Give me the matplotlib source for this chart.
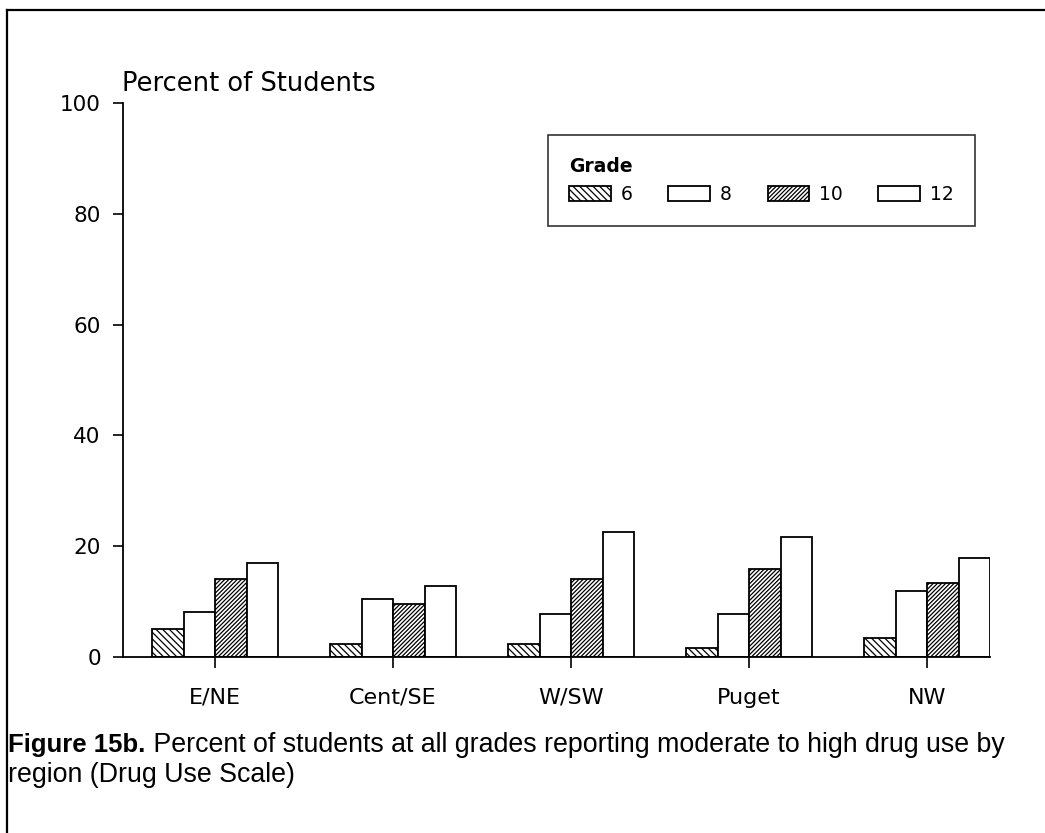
import matplotlib
matplotlib.use("Agg")
import matplotlib.pyplot as plt
from matplotlib.lines import Line2D
import numpy as np

regions = ["E/NE", "Cent/SE", "W/SW", "Puget", "NW"]
grades = ["6", "8", "10", "12"]
grade6 = [5.0, 2.3, 2.4, 1.7, 3.5]
grade8 = [8.1, 10.5, 7.7, 7.7, 11.9]
grade10 = [14.0, 9.5, 14.0, 15.9, 13.3]
grade12 = [16.9, 12.8, 22.5, 21.7, 17.8]
yticks = [0, 20, 40, 60, 80, 100]

plt.rcParams['hatch.linewidth'] = 0.9
plt.rcParams['font.family'] = ['DejaVu Sans']

fig = plt.figure(figsize=(10.45, 8.33), dpi=100)
ax = fig.add_axes([0.1177, 0.2113, 0.8297, 0.6651])

x = np.arange(len(regions))
w = 0.177
series = [grade6, grade8, grade10, grade12]
hatches = ['\\\\\\\\\\', None, '////////', None]
for i, (vals, h) in enumerate(zip(series, hatches)):
    ax.bar(x + (i - 1.5) * w, vals, w, color='white', edgecolor='black',
           linewidth=1.3, hatch=h, label=grades[i])

ax.set_xlim(-0.517, 4.354)
ax.set_ylim(0, 100)
ax.set_yticks(yticks)
ax.set_xticks(x)
ax.set_xticklabels(regions, fontsize=16)
ax.tick_params(axis='y', labelsize=15.5, length=7, width=1.2, pad=9, direction='out')
ax.tick_params(axis='x', length=8, width=1.2, pad=14, direction='out')
for s in ['top', 'right']:
    ax.spines[s].set_visible(False)
for s in ['left', 'bottom']:
    ax.spines[s].set_linewidth(1.3)

fig.text(0.117, 0.899, "Percent of Students", fontsize=18.5, ha='left', va='center')

leg = ax.legend(loc='upper left', bbox_to_anchor=(0.490, 0.942), ncol=4,
                title="Grade", frameon=True, fancybox=False, edgecolor='black',
                fontsize=13.5, handlelength=2.2, handleheight=0.85,
                columnspacing=1.9, handletextpad=0.55, borderpad=1.15,
                labelspacing=0.5, alignment='left', borderaxespad=0)
leg.get_title().set_fontweight('bold')
leg.get_title().set_fontsize(13.5)
leg.get_frame().set_linewidth(1.2)

# caption
cap_y1 = 1 - 745 / 833
cap_y2 = 1 - 775 / 833
t1 = fig.text(0.008, cap_y1, "Figure 15b.", fontsize=18.5, fontweight='bold',
              family='Liberation Sans', ha='left', va='center')
fig.canvas.draw()
bb = t1.get_window_extent()
x_after = bb.x1 / fig.bbox.width
fig.text(x_after, cap_y1, " Percent of students at all grades reporting moderate to high drug use by",
         fontsize=19.3, family='Liberation Sans', ha='left', va='center')
fig.text(0.008, cap_y2, "region (Drug Use Scale)", fontsize=19.3,
         family='Liberation Sans', ha='left', va='center')

# outer frame (top and left)
fig.add_artist(Line2D([7 / 1045, 1.0], [1 - 10 / 833, 1 - 10 / 833], color='black', linewidth=1.6))
fig.add_artist(Line2D([7 / 1045, 7 / 1045], [0.0, 1 - 10 / 833], color='black', linewidth=1.6))

fig.savefig("out.png", dpi=100)
